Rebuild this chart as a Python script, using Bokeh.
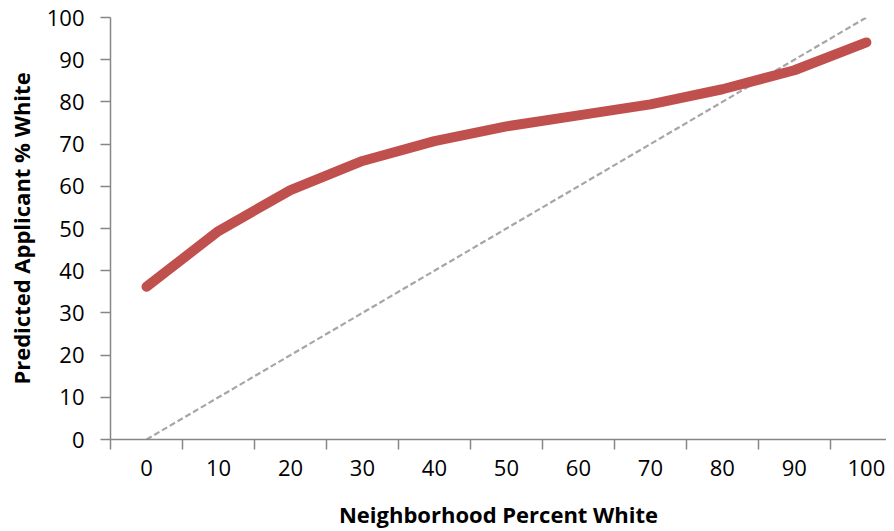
from bokeh.plotting import figure
from bokeh.models import FixedTicker, Range1d
from bokeh.embed import file_html
from bokeh.resources import INLINE

categories = [0, 10, 20, 30, 40, 50, 60, 70, 80, 90, 100]
predicted = [36.2, 49.4, 59.1, 66.0, 70.7, 74.2, 76.8, 79.4, 83.0, 87.5, 94.1]
parity = [0, 10, 20, 30, 40, 50, 60, 70, 80, 90, 100]
y_ticks = [0, 10, 20, 30, 40, 50, 60, 70, 80, 90, 100]
x_title = "Neighborhood Percent White"
y_title = "Predicted Applicant % White"

FONT = "Open Sans"
AXIS_COLOR = "#868686"

p = figure(width=886, height=531, output_backend="svg", toolbar_location=None,
           x_range=Range1d(-5, 102.8), y_range=Range1d(0, 100),
           min_border_left=110, min_border_right=0, min_border_top=17, min_border_bottom=91)
p.outline_line_color = None
p.xgrid.grid_line_color = None
p.ygrid.grid_line_color = None

p.line(parity, parity, line_color="#A6A6A6", line_width=2.2, line_dash="6 3")
p.line(categories, predicted, line_color="#C0504D", line_width=10,
       line_cap="round", line_join="round")

xa = p.xaxis[0]
xa.ticker = FixedTicker(ticks=categories, minor_ticks=[c - 5 for c in categories])
xa.major_tick_out = 0
xa.major_tick_in = 0
xa.minor_tick_out = 10
xa.minor_tick_in = 0
xa.minor_tick_line_color = AXIS_COLOR
xa.minor_tick_line_width = 1.5
xa.axis_line_color = AXIS_COLOR
xa.axis_line_width = 1.5
xa.major_label_text_font = FONT
xa.major_label_text_font_size = "22px"
xa.major_label_text_color = "black"
xa.major_label_standoff = 10
xa.axis_label = x_title
xa.axis_label_text_font = FONT
xa.axis_label_text_font_size = "22px"
xa.axis_label_text_font_style = "bold"
xa.axis_label_text_color = "black"
xa.axis_label_standoff = 20

ya = p.yaxis[0]
ya.ticker = FixedTicker(ticks=y_ticks)
ya.minor_tick_line_color = None
ya.major_tick_out = 10
ya.major_tick_in = 0
ya.major_tick_line_color = AXIS_COLOR
ya.major_tick_line_width = 1.5
ya.axis_line_color = AXIS_COLOR
ya.axis_line_width = 1.5
ya.major_label_text_font = FONT
ya.major_label_text_font_size = "22px"
ya.major_label_text_color = "black"
ya.major_label_standoff = 16
ya.axis_label = y_title
ya.axis_label_text_font = FONT
ya.axis_label_text_font_size = "22px"
ya.axis_label_text_font_style = "bold"
ya.axis_label_text_color = "black"
ya.axis_label_standoff = 8

open("out.html", "w").write(file_html(p, INLINE))
